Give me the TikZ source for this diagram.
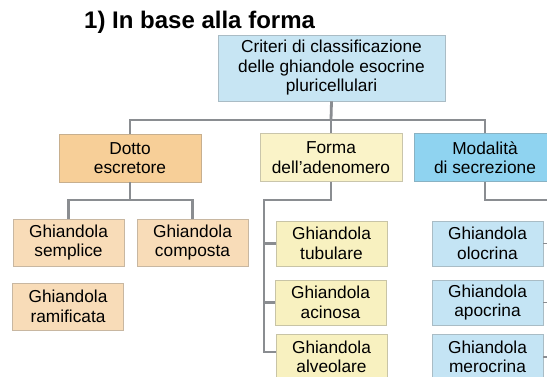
\documentclass[tikz,border=0pt]{standalone}
\usepackage{fontspec}
\setmainfont{Liberation Sans}
\definecolor{conncol}{HTML}{8A8D91}
\definecolor{rootfill}{HTML}{C7E5F3}
\definecolor{modfill}{HTML}{8FD3F0}
\definecolor{bluefill}{HTML}{C4E4F4}
\definecolor{dotfill}{HTML}{F7CF98}
\definecolor{orfill}{HTML}{F8DCB8}
\definecolor{formfill}{HTML}{FAF3C8}
\definecolor{yelfill}{HTML}{F8F1C0}
\begin{document}
\begin{tikzpicture}[x=1pt,y=-1pt,
  box/.style={draw=#1!75!black!80, line width=0.7pt, fill=#1, align=center, inner sep=0pt,
    font=\fontsize{17.3}{19.5}\selectfont},
  leaf/.style={minimum width=111pt, minimum height=45pt},
  mid/.style={minimum width=142pt, minimum height=48pt},
  conn/.style={draw=conncol, line width=2.8pt}]
\useasboundingbox (0,0) rectangle (547,376);
\clip (0,0) rectangle (547,376);
\fill[white] (0,0) rectangle (547,376);

\node[anchor=base west, font=\fontsize{24}{28}\selectfont\bfseries, inner sep=0pt] (title) at (84,28) {1) In base alla forma};

\node[box=rootfill, minimum width=227pt, minimum height=66pt] (root) at (331.5,68) {Criteri di classificazione\\delle ghiandole esocrine\\pluricellulari};

\node[box=dotfill, mid] (dotto) at (130,158) {Dotto\\escretore};
\node[box=formfill, mid] (forma) at (331,157.5) {Forma\\dell’adenomero};
\node[box=modfill, mid] (modal) at (485,157.5) {Modalità\\di secrezione};

\node[box=orfill, leaf, minimum height=47pt] (semp) at (68.5,242.5) {Ghiandola\\semplice};
\node[box=orfill, leaf, minimum height=47pt] (comp) at (192.5,242.5) {Ghiandola\\composta};
\node[box=orfill, leaf, minimum height=47pt] (ramif) at (68,306.5) {Ghiandola\\ramificata};

\node[box=yelfill, leaf] (tub) at (331.5,243.5) {Ghiandola\\tubulare};
\node[box=yelfill, leaf] (acin) at (330.5,302.5) {Ghiandola\\acinosa};
\node[box=yelfill, leaf] (alv) at (331.5,357) {Ghiandola\\alveolare};

\node[box=bluefill, leaf] (olo) at (487.5,243.5) {Ghiandola\\olocrina};
\node[box=bluefill, leaf] (apo) at (487.5,302.5) {Ghiandola\\apocrina};
\node[box=bluefill, leaf] (mero) at (487.5,357) {Ghiandola\\merocrina};

% connectors
\coordinate (bus) at (331,120);
\draw[conn] (root.south) -- (bus);
\draw[conn] (dotto.north) |- (bus) -| (modal.north);
\draw[conn] (bus) -- (forma.north);

\coordinate (dbus) at (130,200);
\draw[conn] (dotto.south) -- (dbus);
\draw[conn] (semp.north) |- (dbus) -| (comp.north);

\coordinate (fbus) at (264,200);
\draw[conn] (forma.south) |- (fbus) |- (tub.west);
\draw[conn] (fbus) |- (acin.west);
\draw[conn] (fbus) |- ([yshift=5pt]alv.west);

\coordinate (mbus) at (552,200);
\draw[conn] (modal.south) |- (mbus);
\draw[conn, line width=1.6pt] (olo.east) -- ++(8,0);
\draw[conn, line width=1.6pt] (apo.east) -- ++(8,0);
\draw[conn, line width=1.6pt] (mero.east) -- ++(8,0);
\end{tikzpicture}
\end{document}
